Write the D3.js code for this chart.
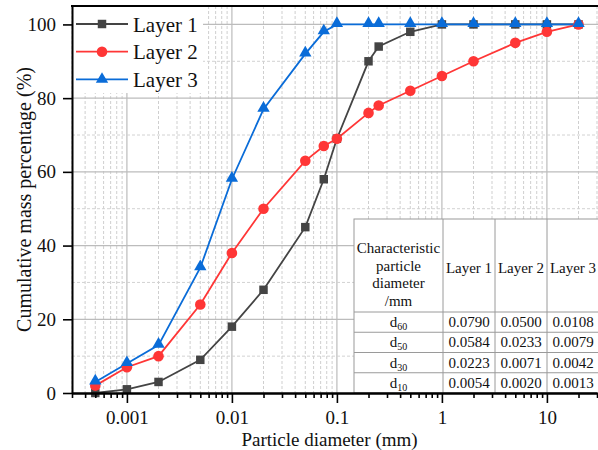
<!DOCTYPE html>
<html>
<head>
<meta charset="utf-8">
<script src="https://cdn.jsdelivr.net/npm/d3@7"></script>
<style>
  body { margin: 0; background: #fff; }
  text { font-family: "Liberation Serif", "Times New Roman", serif; fill: #111; }
</style>
</head>
<body>
<svg id="chart" width="598" height="450"></svg>
<script>
// particle size distribution
var diameters = [0.0005, 0.001, 0.002, 0.005, 0.01, 0.02, 0.05, 0.075, 0.1, 0.2, 0.25, 0.5, 1, 2, 5, 10, 20];
var layer_1   = [0, 1, 3, 9, 18, 28, 45, 58, 69, 90, 94, 98, 100, 100, 100, 100, 100];
var layer_2   = [2, 7, 10, 24, 38, 50, 63, 67, 69, 76, 78, 82, 86, 90, 95, 98, 100];
var layer_3   = [3, 8, 13, 34, 58, 77, 92, 98, 100, 100, 100, 100, 100, 100, 100, 100, 100];

var series_names = ["Layer 1", "Layer 2", "Layer 3"];

var x_ticks       = [0.001, 0.01, 0.1, 1, 10];
var x_tick_labels = ["0.001", "0.01", "0.1", "1", "10"];
var y_ticks       = [0, 20, 40, 60, 80, 100];

var table_header = ["Characteristic", "particle", "diameter", "/mm"];
var table_rows   = ["60", "50", "30", "10"];
var table_vals   = [
  ["0.0790", "0.0500", "0.0108"],
  ["0.0584", "0.0233", "0.0079"],
  ["0.0223", "0.0071", "0.0042"],
  ["0.0054", "0.0020", "0.0013"]
];

var svg = d3.select("#chart");

// note: "top" is taken by window.top, hence the prefixes
var plot_left   = 72;
var plot_right  = 597;
var plot_top    = 6;
var plot_bottom = 393;

var x = d3.scaleLog().domain([0.0003, 30]).range([plot_left, plot_right]);
var y = d3.scaleLinear().domain([0, 105]).range([plot_bottom, plot_top]);

// minor decade positions 2..9 (and 3..9 for the first partial decade)
var minor = [];
[0.0001, 0.001, 0.01, 0.1, 1, 10].forEach(function (d) {
  for (var k = 2; k <= 9; k++) {
    var v = +(d * k).toPrecision(6);
    if (v >= 0.0003 && v <= 30) minor.push(v);
  }
});

var grid = svg.append("g");

grid.selectAll(".xminor").data(minor).enter().append("line")
    .attr("x1", function (d) { return x(d); })
    .attr("x2", function (d) { return x(d); })
    .attr("y1", plot_top).attr("y2", plot_bottom)
    .attr("stroke", "#cfcfcf").attr("stroke-width", 1)
    .attr("stroke-dasharray", "3,2");

grid.selectAll(".xmajor").data(x_ticks).enter().append("line")
    .attr("x1", function (d) { return x(d); })
    .attr("x2", function (d) { return x(d); })
    .attr("y1", plot_top).attr("y2", plot_bottom)
    .attr("stroke", "#bcbcbc").attr("stroke-width", 1.2);

grid.selectAll(".yminor").data([10, 30, 50, 70, 90]).enter().append("line")
    .attr("x1", plot_left).attr("x2", 598)
    .attr("y1", function (d) { return y(d); })
    .attr("y2", function (d) { return y(d); })
    .attr("stroke", "#d2d2d2").attr("stroke-width", 1)
    .attr("stroke-dasharray", "3,2");

grid.selectAll(".ymajor").data(y_ticks.slice(1)).enter().append("line")
    .attr("x1", plot_left).attr("x2", 598)
    .attr("y1", function (d) { return y(d); })
    .attr("y2", function (d) { return y(d); })
    .attr("stroke", "#bcbcbc").attr("stroke-width", 1.2);

// legend background hides the grid
svg.append("rect").attr("x", plot_left + 1).attr("y", plot_top + 1)
   .attr("width", 130).attr("height", 86).attr("fill", "#fff");

// table in the lower right: label column + one column per layer
var tab_x    = [354, 443, 495, 547, 599];
var tab_top  = 219;
var head_bot = 312;
var row_h    = (plot_bottom - head_bot) / table_rows.length;

var tab = svg.append("g");
tab.append("rect").attr("x", tab_x[0]).attr("y", tab_top)
   .attr("width", 250).attr("height", plot_bottom - tab_top)
   .attr("fill", "#fff").attr("stroke", "#9a9a9a").attr("stroke-width", 1);

tab_x.slice(1, 4).forEach(function (cx) {
  tab.append("line").attr("x1", cx).attr("x2", cx).attr("y1", tab_top).attr("y2", plot_bottom)
     .attr("stroke", "#9a9a9a").attr("stroke-width", 1);
});
d3.range(table_rows.length).forEach(function (i) {
  var ry = head_bot + i * row_h;
  tab.append("line").attr("x1", tab_x[0]).attr("x2", 600).attr("y1", ry).attr("y2", ry)
     .attr("stroke", "#9a9a9a").attr("stroke-width", 1);
});

var c0 = (tab_x[0] + tab_x[1]) / 2;
table_header.forEach(function (t, i) {
  tab.append("text").attr("x", c0).attr("y", 253 + i * 17.6)
     .attr("text-anchor", "middle").style("font-size", "15px").text(t);
});
series_names.forEach(function (t, j) {
  tab.append("text").attr("x", (tab_x[j + 1] + tab_x[j + 2]) / 2).attr("y", 273)
     .attr("text-anchor", "middle").style("font-size", "15px").text(t);
});
table_rows.forEach(function (r, i) {
  var ty = head_bot + i * row_h + row_h / 2 + 5;
  var lbl = tab.append("text").attr("x", c0).attr("y", ty)
     .attr("text-anchor", "middle").style("font-size", "15px");
  lbl.append("tspan").text("d");
  lbl.append("tspan").attr("dy", 3).style("font-size", "10px").text(r);
  table_vals[i].forEach(function (v, j) {
    tab.append("text").attr("x", (tab_x[j + 1] + tab_x[j + 2]) / 2).attr("y", ty)
       .attr("text-anchor", "middle").style("font-size", "15px").text(v);
  });
});

// curves
var colors = ["#444444", "#ff3636", "#0a6cd8"];
var all    = [layer_1, layer_2, layer_3];

var line = d3.line()
  .x(function (d) { return x(d[0]); })
  .y(function (d) { return y(d[1]); });

var square   = d3.symbol().type(d3.symbolSquare).size(72);
var circle   = d3.symbol().type(d3.symbolCircle).size(88);
var triangle = d3.symbol().type(d3.symbolTriangle).size(66);
var shapes   = [square, circle, triangle];

all.forEach(function (vals, s) {
  var pts = d3.zip(diameters, vals);
  svg.append("path").datum(pts).attr("d", line)
     .attr("fill", "none").attr("stroke", colors[s]).attr("stroke-width", 1.8);
});
all.forEach(function (vals, s) {
  var pts = d3.zip(diameters, vals);
  svg.append("g").selectAll("path").data(pts).enter().append("path")
     .attr("d", shapes[s])
     .attr("transform", function (d) { return "translate(" + x(d[0]) + "," + (y(d[1]) + (s === 2 ? -1 : 0)) + ")"; })
     .attr("fill", colors[s]);
});

// legend
var leg_y = [24, 51.7, 79.3];
series_names.forEach(function (name, s) {
  var g = svg.append("g");
  g.append("line").attr("x1", 76).attr("x2", 128).attr("y1", leg_y[s]).attr("y2", leg_y[s])
   .attr("stroke", colors[s]).attr("stroke-width", 1.8);
  g.append("path").attr("d", shapes[s]).attr("transform", "translate(102," + leg_y[s] + ")")
   .attr("fill", colors[s]);
  g.append("text").attr("x", 133).attr("y", leg_y[s] + 7.5)
   .style("font-size", "21px").text(name);
});

// axes
svg.append("g").attr("transform", "translate(0," + plot_bottom + ")")
  .call(d3.axisBottom(x).tickValues(x_ticks).tickSize(10).tickSizeOuter(0).tickPadding(8)
    .tickFormat(function (d, i) { return x_tick_labels[i]; }));
svg.append("g").attr("transform", "translate(0," + plot_bottom + ")")
  .call(d3.axisBottom(x).tickValues(minor).tickSize(5).tickSizeOuter(0).tickFormat(""));

svg.append("g").attr("transform", "translate(" + plot_left + ",0)")
  .call(d3.axisLeft(y).tickValues(y_ticks).tickSize(9).tickSizeOuter(0).tickPadding(7));

svg.selectAll(".domain").attr("stroke", "#000").attr("stroke-width", 2);
svg.selectAll(".tick line").attr("stroke", "#000").attr("stroke-width", 1.6);
svg.selectAll(".tick text").style("font-family", "Liberation Serif, serif")
   .style("font-size", "19px").attr("fill", "#111");

svg.append("line").attr("x1", plot_left - 1).attr("x2", 598).attr("y1", plot_top).attr("y2", plot_top)
   .attr("stroke", "#000").attr("stroke-width", 2);

svg.append("text").attr("x", (plot_left + plot_right) / 2 - 5).attr("y", 446)
   .attr("text-anchor", "middle").style("font-size", "19px").text("Particle diameter (mm)");

svg.append("text").attr("transform", "translate(31," + ((plot_top + plot_bottom) / 2) + ") rotate(-90)")
   .attr("text-anchor", "middle").style("font-size", "20px").text("Cumulative mass percentage (%)");
</script>
</body>
</html>
